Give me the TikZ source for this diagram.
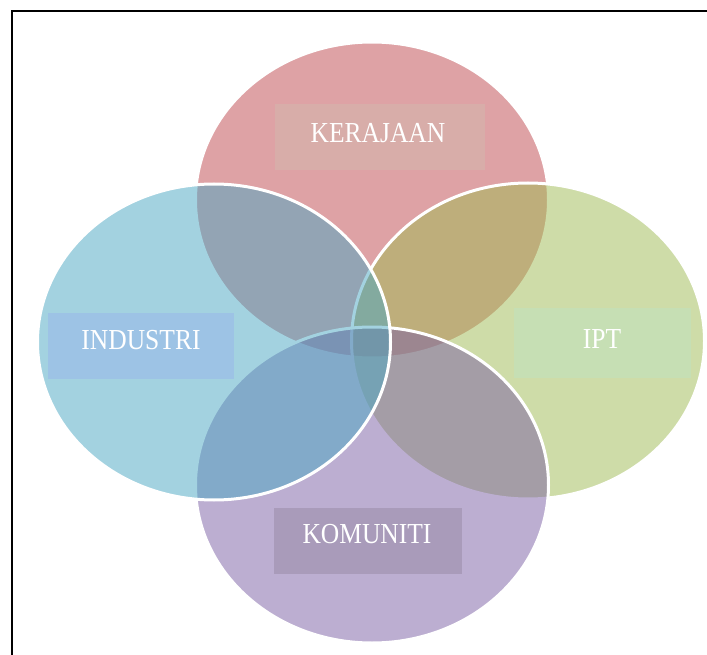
\documentclass[tikz,border=0pt]{standalone}
\usepackage{fontspec}
\setmainfont{Liberation Serif}
\usetikzlibrary{shapes.geometric}

\definecolor{kerajaan}{RGB}{191,71,77}
\definecolor{industri}{RGB}{73,167,195}
\definecolor{ipt}{RGB}{159,187,83}
\definecolor{komuniti}{RGB}{123,95,165}
\definecolor{kerajaanbox}{RGB}{216,173,169}
\definecolor{industribox}{RGB}{157,195,229}
\definecolor{iptbox}{RGB}{198,223,180}
\definecolor{komunitibox}{RGB}{169,155,186}

\newcommand{\lbltxt}[1]{\scalebox{0.88}[1]{#1}}

\tikzset{
  venn/.style={ellipse, draw=white, line width=3, fill opacity=0.5,
    minimum width=353, minimum height=316, inner sep=0},
  lblbox/.style={minimum height=66, inner sep=0},
  lbltext/.style={text=white, inner sep=0, font=\fontsize{29}{29}\selectfont}
}

\begin{document}
\begin{tikzpicture}[x=1pt,y=-1pt]

    \useasboundingbox (0,0) rectangle (707,655);
    \clip (0,0) rectangle (707,655);
    \fill[white] (0,0) rectangle (707,655);

    % the four circles
    \node[venn, fill=kerajaan] (K) at (372,200) {};
    \node[venn, fill=ipt] (P) at (528,341) {};
    \node[venn, fill=komuniti] (M) at (372,485) {};
    \node[venn, fill=industri] (I) at (214,342) {};

    % labels
    \node[lblbox, fill=kerajaanbox, minimum width=210] (K1) at (380,137) {};
    \node[lbltext] (K2) at (378,133) {\lbltxt{KERAJAAN}};

    \node[lblbox, fill=industribox, minimum width=186] (I1) at (141,346) {};
    \node[lbltext] (I2) at (141,340) {\lbltxt{INDUSTRI}};

    \node[lblbox, fill=iptbox, minimum width=177, minimum height=70] (P1) at (602,343) {};
    \node[lbltext] (P2) at (602,339) {\lbltxt{IPT}};

    \node[lblbox, fill=komunitibox, minimum width=188] (M1) at (368,541) {};
    \node[lbltext] (M2) at (367,534) {\lbltxt{KOMUNITI}};

    \draw[line width=1.7] (12,11) rectangle (720,670);

\end{tikzpicture}
\end{document}
